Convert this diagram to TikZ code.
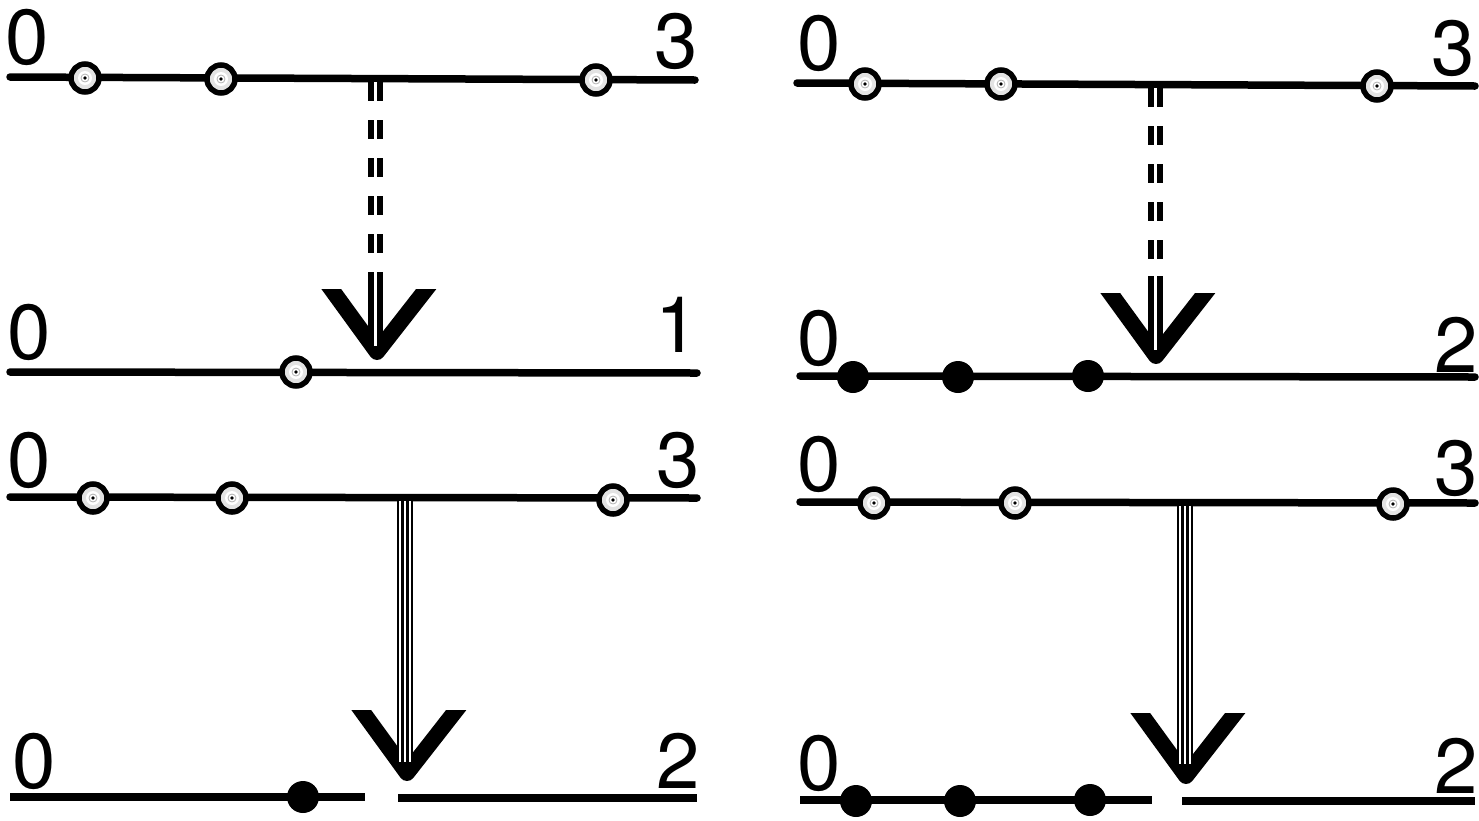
\documentclass[tikz,border=0pt]{standalone}
\usepackage{fontspec}
\setmainfont{TeX Gyre Heros}
\begin{document}
\begin{tikzpicture}[x=1pt,y=-1pt,
  axis/.style={line width=7.5pt, line cap=round},
  axisb/.style={line width=7.5pt, line cap=butt},
  lbl/.style={inner sep=0pt, font=\fontsize{78}{78}\selectfont},
  ocirc/.style={circle, draw=black, line width=5.5pt, minimum size=28pt, inner sep=0pt, fill=gray!22,
    path picture={\fill[white] (path picture bounding box.center) circle (7pt);
                  \draw[gray!60, line width=0.8pt] (path picture bounding box.center) circle (4pt);
                  \fill[black] (path picture bounding box.center) circle (1.8pt);}},
  fdot/.style={circle, fill=black, minimum size=32pt, inner sep=0pt},
  dpat/.style={dash pattern=on 19pt off 19pt},
  dblout/.style={line width=15pt},
  dblin/.style={line width=3pt, white},
  pics/vhead/.style={code={
    \begin{scope}
      \clip (-70,-63) rectangle (75,20);
      \draw[line width=16pt, line join=round] (-52.3,-72) -- (0,0) -- (57.8,-74);
    \end{scope}}},
]
\useasboundingbox (0,0) rectangle (1479,820);

% ================= LEFT COLUMN =================
% top-left line
\draw[axis] (10,77) -- (695,80);
\node[lbl, anchor=base west] (tl0) at (5,64) {0};
\node[lbl, anchor=base east] (tl3) at (698,68) {3};
\node[ocirc] (tlc1) at (85,78) {};
\node[ocirc] (tlc2) at (221,79) {};
\node[ocirc] (tlc3) at (596,80) {};

% middle-left line
\draw[axis] (10,372) -- (697,373);
\node[lbl, anchor=base west] (ml0) at (7,359) {0};
\node[lbl, anchor=base east] (ml1) at (699,352) {1};
\node[ocirc] (mlc1) at (296,372) {};

% dashed double arrow (left)
\coordinate (la1) at (375,82);
\coordinate (la2) at (375,256);
\coordinate (la3) at (375,272);
\coordinate (la4) at (375,346);
\pic at (377,352) {vhead};
\draw[dblout, dpat] (la1) -- (la2);
\draw[dblin, dpat] (la1) -- (la2);
\draw[dblout] (la3) -- (la4);
\draw[dblin] (la3) -- (la4);

% third-left line
\draw[axis] (10,497) -- (697,498);
\node[lbl, anchor=base west] (l30) at (7,487) {0};
\node[lbl, anchor=base east] (l33) at (700,487) {3};
\node[ocirc] (l3c1) at (93,498) {};
\node[ocirc] (l3c2) at (232,498) {};
\node[ocirc] (l3c3) at (613,500) {};

% bottom-left line
\draw[axisb] (10,797) -- (365,797);
\draw[axisb] (398,798) -- (697,798);
\node[lbl, anchor=base west] (bl0) at (12,788) {0};
\node[lbl, anchor=base east] (bl2) at (700,788) {2};
\node[fdot] (bld1) at (303,797) {};

% triple arrow (left)
\coordinate (lt1) at (405,501);
\coordinate (lt2) at (405,762);
\pic at (407,773) {vhead};
\draw[line width=16pt] (lt1) -- (lt2);
\draw[line width=12pt, white] (lt1) -- (lt2);
\draw[line width=7.5pt] (lt1) -- (lt2);
\draw[line width=2.8pt, white] (lt1) -- (lt2);

% ================= RIGHT COLUMN =================
% top-right line
\draw[axis] (797,83) -- (1475,86);
\node[lbl, anchor=base west] (tr0) at (797,70) {0};
\node[lbl, anchor=base east] (tr3) at (1475,75) {3};
\node[ocirc] (trc1) at (865,84) {};
\node[ocirc] (trc2) at (1001,84) {};
\node[ocirc] (trc3) at (1377,86) {};

% second-right line
\draw[axis] (800,376) -- (1475,377);
\node[lbl, anchor=base west] (r20) at (797,365) {0};
\node[lbl, anchor=base east] (r22) at (1478,372) {2};
\node[fdot] (r2d1) at (853,377) {};
\node[fdot] (r2d2) at (958,377) {};
\node[fdot] (r2d3) at (1088,376) {};

% dashed double arrow (right)
\coordinate (ra1) at (1155,88);
\coordinate (ra2) at (1155,260);
\coordinate (ra3) at (1155,276);
\coordinate (ra4) at (1155,350);
\pic at (1156,356) {vhead};
\draw[dblout, dpat] (ra1) -- (ra2);
\draw[dblin, dpat] (ra1) -- (ra2);
\draw[dblout] (ra3) -- (ra4);
\draw[dblin] (ra3) -- (ra4);

% third-right line
\draw[axis] (800,502) -- (1475,503);
\node[lbl, anchor=base west] (r30) at (797,491) {0};
\node[lbl, anchor=base east] (r33) at (1478,495) {3};
\node[ocirc] (r3c1) at (874,503) {};
\node[ocirc] (r3c2) at (1015,503) {};
\node[ocirc] (r3c3) at (1393,504) {};

% bottom-right line
\draw[axisb] (800,800) -- (1152,800);
\draw[axisb] (1182,801) -- (1475,801);
\node[lbl, anchor=base west] (br0) at (797,790) {0};
\node[lbl, anchor=base east] (br2) at (1478,793) {2};
\node[fdot] (brd1) at (856,801) {};
\node[fdot] (brd2) at (960,801) {};
\node[fdot] (brd3) at (1090,800) {};

% triple arrow (right)
\coordinate (rt1) at (1185,506);
\coordinate (rt2) at (1185,764);
\pic at (1186,776) {vhead};
\draw[line width=16pt] (rt1) -- (rt2);
\draw[line width=12pt, white] (rt1) -- (rt2);
\draw[line width=7.5pt] (rt1) -- (rt2);
\draw[line width=2.8pt, white] (rt1) -- (rt2);
\end{tikzpicture}
\end{document}
